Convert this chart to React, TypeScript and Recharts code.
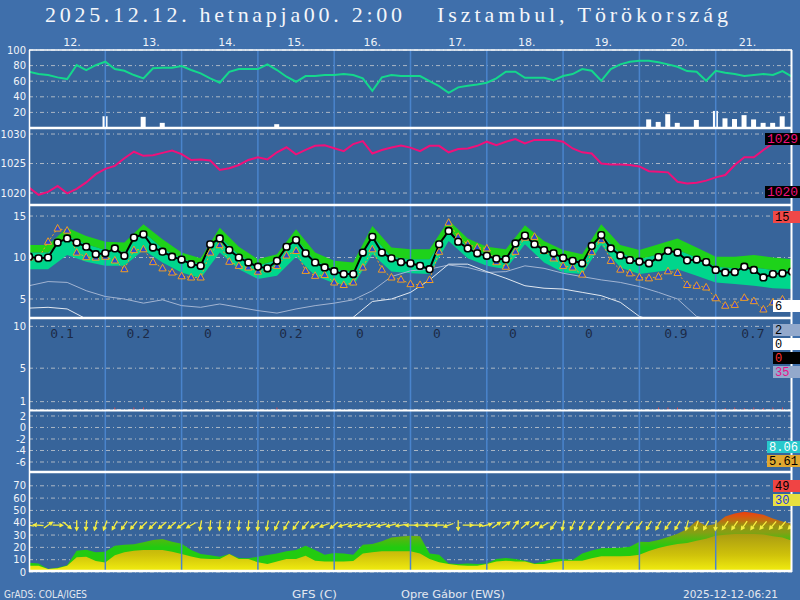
import React from 'react';
import { ComposedChart, Line, Area, Bar, Scatter, XAxis, YAxis, CartesianGrid, ReferenceLine } from 'recharts';

if (typeof document !== 'undefined') document.body.style.margin = '0';

// 3-hourly series, 0..240 h
const rh = [72.1, 69.2, 67.9, 64.9, 62.7, 80.7, 74.3, 80.7, 85.0, 75.6,
  73.4, 67.9, 63.6, 76.5, 77.3, 77.3, 79.4, 74.3, 70.0, 63.6,
  58.0, 72.1, 75.6, 75.6, 75.6, 81.6, 74.3, 65.7, 59.3, 66.6,
  66.6, 67.9, 67.9, 69.2, 67.9, 63.6, 47.7, 64.9, 67.9, 66.6,
  66.6, 66.6, 60.2, 53.7, 45.1, 52.1, 54.1, 55.9, 58.0, 63.6,
  72.1, 72.1, 64.4, 64.4, 64.4, 61.4, 66.6, 69.2, 75.6, 73.4,
  60.5, 75.6, 81.6, 85.0, 86.2, 86.2, 84.2, 81.6, 78.5, 73.0,
  72.1, 60.5, 73.4, 70.8, 69.2, 66.6, 67.9, 69.2, 67.9, 73.0, 65.7];

const pressure = [1020.95, 1019.7, 1020.2, 1021.2, 1019.95, 1020.7, 1021.8, 1023.2, 1024.1, 1024.6,
  1025.9, 1027.0, 1026.3, 1026.4, 1026.8, 1027.2, 1026.6, 1025.6, 1025.7, 1025.5,
  1023.9, 1024.2, 1024.75, 1025.6, 1026.05, 1025.7, 1026.9, 1027.75, 1026.55, 1027.3,
  1028.0, 1028.1, 1027.6, 1027.1, 1028.3, 1028.8, 1026.7, 1027.3, 1027.7, 1028.05,
  1027.7, 1027.1, 1028.0, 1028.0, 1026.9, 1027.45, 1027.55, 1028.0, 1028.7, 1028.1,
  1028.7, 1029.15, 1028.4, 1029.0, 1029.0, 1029.0, 1028.7, 1027.55, 1026.9, 1026.7,
  1025.0, 1024.85, 1024.85, 1024.75, 1024.5, 1023.7, 1023.6, 1023.5, 1021.9, 1021.6,
  1021.75, 1022.1, 1022.65, 1023.05, 1024.75, 1026.05, 1026.05, 1027.3, 1028.4, 1029.0, 1029.3];

const tMean = [10.1, 9.9, 10.0, 11.8, 12.3, 11.8, 11.3, 10.4, 10.5, 11.1,
  10.2, 12.4, 12.8, 11.2, 10.7, 10.1, 9.75, 9.2, 9.0, 11.6,
  12.3, 10.9, 10.0, 9.4, 8.9, 8.7, 9.6, 11.3, 12.1, 10.5,
  9.4, 8.8, 8.35, 8.0, 8.0, 10.6, 12.5, 10.6, 9.9, 9.45,
  9.3, 9.0, 8.6, 11.6, 13.2, 11.9, 11.1, 10.5, 10.2, 9.85,
  9.8, 11.7, 12.65, 11.6, 10.9, 10.5, 9.95, 9.6, 9.3, 11.4,
  12.7, 11.1, 10.25, 9.7, 9.5, 9.3, 10.05, 10.8, 10.6, 9.65,
  9.75, 9.45, 8.5, 8.2, 8.25, 8.9, 8.5, 7.6, 8.0, 8.1, 8.3];

const tGfs = [10.0, 9.9, 11.9, 13.5, 13.25, 10.6, 10.05, 10.0, 10.1, 9.65,
  8.6, 10.9, 11.0, 9.45, 8.7, 8.2, 7.75, 7.6, 7.6, 10.6,
  11.5, 9.5, 9.0, 8.8, 8.3, 8.6, 9.0, 10.25, 10.8, 8.4,
  7.8, 7.9, 7.0, 6.7, 7.0, 8.8, 11.0, 8.55, 7.6, 7.35,
  6.8, 6.7, 7.3, 10.7, 14.2, 12.5, 11.6, 11.2, 11.1, 9.45,
  8.9, 10.7, 12.4, 12.5, 10.8, 9.9, 9.0, 8.8, 7.95, 10.65,
  12.1, 9.6, 8.55, 8.1, 7.6, 7.5, 7.7, 8.35, 8.15, 6.7,
  6.6, 6.4, 5.1, 4.2, 4.3, 5.15, 4.75, 3.75, 4.6, 4.95, 4.6];

// 6-hourly ensemble band and dew point lines
const bandUpper = [11.5, 11.5, 13.6, 12.6, 11.9, 11.8, 14.0, 12.2, 10.6, 9.9,
  13.6, 11.3, 9.8, 10.4, 13.4, 10.6, 9.6, 9.4, 13.8, 11.2,
  11.0, 11.0, 14.5, 12.3, 11.3, 11.0, 13.9, 12.0, 10.9, 10.4,
  14.0, 11.5, 10.9, 11.6, 12.3, 11.2, 10.1, 10.1, 10.3, 10.0, 9.8];
const bandMid = [10.6, 10.6, 12.6, 11.6, 10.9, 10.7, 13.1, 11.1, 9.9, 9.2,
  12.5, 10.3, 9.0, 9.7, 12.3, 9.6, 8.6, 8.3, 12.6, 10.1,
  9.8, 9.8, 13.3, 11.3, 10.4, 10.0, 12.8, 11.0, 10.0, 9.6,
  12.8, 10.5, 9.8, 10.4, 10.9, 10.0, 8.9, 8.7, 8.8, 8.5, 8.5];
const bandLower = [8.6, 8.6, 10.3, 9.5, 9.0, 9.0, 10.9, 9.4, 8.2, 7.5,
  10.6, 8.6, 7.4, 7.8, 10.1, 7.8, 6.9, 6.6, 10.4, 8.3,
  8.1, 8.0, 12.0, 9.9, 9.0, 8.6, 11.6, 9.4, 8.2, 8.0,
  11.5, 8.8, 8.0, 8.3, 8.6, 7.8, 7.0, 6.8, 6.6, 6.3, 6.2];
const dewA = [6.6, 7.1, 7.0, 6.0, 5.3, 5.0, 4.5, 4.9, 4.2, 4.0,
  4.4, 4.0, 3.6, 3.3, 3.8, 4.2, 4.5, 4.9, 6.0, 7.7,
  8.4, 8.6, 9.1, 8.8, 8.2, 8.3, 9.0, 8.7, 8.1, 7.7,
  7.3, 7.0, 6.5, 5.8, 5.0, 2.9, 2.3, 2.1, 2.0, 2.0, 2.0];
const dewB = [3.9, 4.0, 3.8, 2.6, 2.2, 2.0, 2.0, 2.0, 2.0, 2.0,
  2.0, 2.0, 2.0, 2.0, 2.0, 2.0, 2.0, 2.8, 4.7, 5.0,
  5.8, 7.3, 9.2, 9.2, 8.3, 7.5, 6.6, 6.3, 6.2, 5.8,
  5.4, 4.6, 2.9, 2.2, 2.0, 2.0, 2.0, 2.0, 2.0, 2.0, 2.0];

// precipitation
const rainBarHours = [24, 36, 42, 78, 195, 198, 201, 204, 210, 216, 219, 222, 225, 228, 231, 234, 237];
const rainBarVals = [15.1, 14.3, 6.6, 4.9, 11.0, 7.8, 17.7, 6.6, 10.3, 21.9, 12.4, 11.5, 16.5, 11.0, 6.6, 6.6, 15.0];
const rain3hHours = [24, 27, 33, 36, 78, 198, 201, 204, 216, 219, 222, 225, 228, 231, 234, 237];
const rain3hVals = [0.3, 0.3, 0.3, 0.3, 0.3, 0.3, 0.3, 0.3, 0.3, 0.25, 0.3, 0.25, 0.3, 0.25, 0.3, 0.3];
const dailyRain = ['0.1', '0.2', '0', '0.2', '0', '0', '0', '0', '0.9', '0.7'];
const dailyRainHours = [10.4, 34.4, 56.3, 82.4, 104.1, 128.3, 152.2, 176.1, 203.5, 227.7];

// wind
const gust = [7.5, 7.0, 2.5, 3.5, 5.5, 17.3, 18.0, 16.0, 16.4, 21.4,
  22.2, 22.5, 24.1, 25.9, 26.8, 24.5, 23.0, 17.8, 14.6, 13.5,
  12.4, 14.6, 11.4, 11.1, 12.4, 13.8, 15.1, 16.8, 17.8, 21.4,
  17.8, 14.1, 15.4, 15.1, 14.1, 22.2, 22.7, 24.9, 28.1, 28.8,
  29.4, 29.0, 15.1, 14.1, 7.0, 6.5, 7.0, 6.5, 7.0, 10.5,
  11.4, 10.5, 9.2, 7.0, 8.6, 10.5, 10.5, 9.7, 15.0, 17.5,
  19.2, 19.5, 19.7, 20.5, 24.6, 24.3, 26.0, 28.5, 31.0, 35.0,
  41.6, 37.5, 39.0, 45.0, 47.5, 48.9, 48.0, 46.5, 43.5, 41.0, 38.9];
const windMean = [5.1, 5.0, 2.4, 3.0, 5.1, 11.9, 12.4, 9.0, 7.8, 13.5,
  16.0, 17.3, 17.8, 17.8, 17.8, 16.5, 14.6, 12.5, 11.0, 10.5,
  10.5, 14.6, 10.5, 10.5, 8.0, 6.5, 8.5, 10.5, 10.5, 13.2,
  9.2, 8.6, 8.6, 8.6, 9.0, 15.1, 16.0, 16.8, 16.8, 16.8,
  16.8, 15.0, 10.5, 8.0, 6.5, 5.5, 5.1, 5.1, 6.5, 8.6,
  9.2, 8.6, 8.6, 6.5, 6.5, 8.0, 9.2, 9.2, 9.2, 11.1,
  12.7, 12.7, 12.7, 13.0, 14.0, 17.0, 19.5, 21.4, 22.7, 23.5,
  25.4, 27.0, 29.5, 30.3, 30.8, 30.8, 30.8, 30.5, 29.0, 28.1, 25.4];
// arrow heading on screen, degrees (0 = right, 90 = up)
const windDir = [170, 175, 35, 0, -40, -90, -95, -105, -110, -120,
  -125, -130, -135, -135, -140, -140, -145, -150, -100, -95,
  -95, -100, -95, -95, -95, -100, -115, -120, -125, -130,
  -150, -160, -140, -165, -165, -165, -165, -165, -165, -170,
  180, 180, 180, 180, -160, -90, 0, 0, 15, 35,
  40, 55, 40, 35, -150, -125, -100, -115, -120, -125,
  -120, -125, -125, -130, -125, -120, -120, -125, -120, -105,
  -110, -120, -95, -125, -125, -125, -125, -130, -130, -130, -135];

const dayLabels = ['12.', '13.', '14.', '15.', '16.', '17.', '18.', '19.', '20.', '21.'];
const dayLabelHours = [13.5, 38.4, 62.3, 84, 108, 134.6, 156.6, 180.6, 204.5, 226];
const dayBreaks = [24, 48, 72, 96, 120, 144, 168, 192, 216];

const sideTags = ['1029', '1020', '15', '6', '2', '0', '0', '35', '8.06', '5.61', '49', '30'];

const hours = rh.map((_, i) => i * 3);
const rhData = hours.map((t, i) => {
  const b = rainBarHours.indexOf(t);
  return { t, rh: rh[i], bar: b >= 0 ? rainBarVals[b] : null };
});
const presData = hours.map((t, i) => ({ t, p: pressure[i] }));
const tempData = hours.map((t, i) => ({ t, mean: tMean[i], gfs: tGfs[i] }));
const bandData = bandUpper.map((u, k) => ({
  t: k * 6, hi: [bandMid[k], u], lo: [bandLower[k], bandMid[k]], dewA: dewA[k], dewB: dewB[k],
}));
const precipData = hours.map((t) => {
  const r = rain3hHours.indexOf(t);
  return { t, r: r >= 0 ? rain3hVals[r] : null };
});
const windData = hours.map((t, i) => ({ t, gust: gust[i], mean: windMean[i] }));
const ARROW_LEVEL = 38;
const arrowData = hours.map((t, i) => ({ t, v: ARROW_LEVEL, dir: windDir[i] }));
const RAIN_LABEL_LEVEL = 9.2;
const rainLabelData = dailyRainHours.map((t, i) => ({ t, v: RAIN_LABEL_LEVEL, label: dailyRain[i] }));

const OUTER = '#3f6fab';
const PLOT_BG = '#37649a';
const DAY = '#4a84cc';
const GRID = '#c8ccd0';
const M = { top: 8, right: 8, bottom: 8, left: 2 };
const tickStyle = { fill: '#f2f4f8', fontSize: 10, fontFamily: 'DejaVu Sans' };

const yCommon = {
  width: 27, axisLine: false, tickLine: false, tickSize: 2, tickMargin: 1,
  tick: tickStyle, interval: 0 as const, allowDataOverflow: true, type: 'number' as const,
};

const WIND_MAX = 81.2;
const windPx = (v: number) => 8 + ((WIND_MAX - v) / WIND_MAX) * 100;

function dayLineEls() {
  return dayBreaks.map((d) => (
    <ReferenceLine key={d} x={d} stroke={DAY} strokeWidth={1.5} ifOverflow="hidden" />
  ));
}

const WhiteDot = (props: any) => {
  const { cx, cy } = props;
  if (cx == null || cy == null) return null;
  return <rect key={`w${cx}`} x={cx - 3.3} y={cy - 3.3} width={6.6} height={6.6} rx={2.6}
    fill="#ffffff" stroke="#000000" strokeWidth={1.6} />;
};

const TriDot = (props: any) => {
  const { cx, cy } = props;
  if (cx == null || cy == null) return null;
  return (
    <path key={`t${cx}`} d={`M${cx},${cy - 4} L${cx - 3.6},${cy + 2.6} L${cx + 3.6},${cy + 2.6} Z`}
      fill="#2c4ad0" stroke="#f0a020" strokeWidth={1} />
  );
};

const WindArrow = (props: any) => {
  const { cx, cy, payload } = props;
  const a = (payload.dir * Math.PI) / 180;
  const L = 10;
  const dx = Math.cos(a);
  const dy = -Math.sin(a);
  const x1 = cx - (dx * L) / 2, y1 = cy - (dy * L) / 2;
  const x2 = cx + (dx * L) / 2, y2 = cy + (dy * L) / 2;
  const h = 3.6, th = 0.5;
  const bx = -dx, by = -dy;
  const hx1 = x2 + h * (bx * Math.cos(th) - by * Math.sin(th));
  const hy1 = y2 + h * (bx * Math.sin(th) + by * Math.cos(th));
  const hx2 = x2 + h * (bx * Math.cos(-th) - by * Math.sin(-th));
  const hy2 = y2 + h * (bx * Math.sin(-th) + by * Math.cos(-th));
  return (
    <path d={`M${x1},${y1} L${x2},${y2} M${hx1},${hy1} L${x2},${y2} L${hx2},${hy2}`}
      stroke="#f6ee40" strokeWidth={1.3} fill="none" />
  );
};

const RainLabel = (props: any) => {
  const { cx, cy, payload } = props;
  return (
    <text x={cx} y={cy + 4.5} textAnchor="middle" fill="#1d2b48" fontSize={13}
      fontFamily="'DejaVu Sans Mono', monospace">{payload.label}</text>
  );
};

const tagStyles = [
  { x: 765, y: 133, w: 35, bg: '#000000', fg: '#f0107a' },
  { x: 765, y: 186, w: 35, bg: '#000000', fg: '#f0107a' },
  { x: 773, y: 211, w: 27, bg: '#f04848', fg: '#000000' },
  { x: 773, y: 300, w: 27, bg: '#ffffff', fg: '#000000' },
  { x: 773, y: 324, w: 27, bg: '#93a9cc', fg: '#000000' },
  { x: 773, y: 338, w: 27, bg: '#ffffff', fg: '#000000' },
  { x: 773, y: 352, w: 27, bg: '#000000', fg: '#ff3030' },
  { x: 773, y: 366, w: 27, bg: '#93a9cc', fg: '#e8108a' },
  { x: 767, y: 441, w: 33, bg: '#28c8cc', fg: '#ffffff' },
  { x: 767, y: 455, w: 33, bg: '#e0a830', fg: '#000000' },
  { x: 773, y: 480, w: 27, bg: '#f04444', fg: '#000000' },
  { x: 773, y: 494, w: 27, bg: '#e8e040', fg: '#1838e8' },
];

const abs = (top: number): React.CSSProperties => ({ position: 'absolute', left: 0, top });

export default function App() {
  const grid = (
    <CartesianGrid vertical={false} fill={PLOT_BG} fillOpacity={1} stroke={GRID}
      strokeDasharray="4 3 1 3" strokeOpacity={0.8} />
  );
  return (
    <div style={{ position: 'relative', width: 800, height: 600, background: OUTER, overflow: 'hidden' }}>
      {/* relative humidity + rain bars */}
      <div style={abs(0)}>
        <ComposedChart width={800} height={136} data={rhData} margin={{ ...M, top: 30 }}>
          {grid}
          <XAxis type="number" dataKey="t" domain={[0, 240]} orientation="top" height={20}
            ticks={dayLabelHours} interval={0} axisLine={false} tickLine={false} tickSize={0} tickMargin={4}
            tickFormatter={(v: number) => dayLabels[dayLabelHours.indexOf(v)]}
            tick={{ fill: '#eef2f8', fontSize: 11, fontFamily: 'DejaVu Sans' }} allowDataOverflow />
          <YAxis {...yCommon} domain={[0, 100]} ticks={[20, 40, 60, 80, 100]} />
          <Bar dataKey="bar" fill="#ffffff" barSize={5} isAnimationActive={false} />
          {dayLineEls()}
          <Line dataKey="rh" stroke="#14d88c" strokeWidth={2} dot={false} type="linear" isAnimationActive={false} />
        </ComposedChart>
      </div>

      {/* pressure */}
      <div style={abs(120)}>
        <ComposedChart width={800} height={93} data={presData} margin={M}>
          {grid}
          <XAxis type="number" dataKey="t" domain={[0, 240]} hide allowDataOverflow />
          <YAxis {...yCommon} domain={[1017.97, 1031.02]} ticks={[1020, 1025, 1030]} />
          {dayLineEls()}
          <Line dataKey="p" stroke="#f0107a" strokeWidth={2} dot={false} type="linear" isAnimationActive={false} />
        </ComposedChart>
      </div>

      {/* temperature: bands and dew lines */}
      <div style={abs(197)}>
        <ComposedChart width={800} height={129} data={bandData} margin={M}>
          {grid}
          <XAxis type="number" dataKey="t" domain={[0, 240]} hide allowDataOverflow />
          <YAxis {...yCommon} domain={[2.71, 16.33]} ticks={[5, 10, 15]} />
          <Area dataKey="lo" type="linear" fill="#00d68c" fillOpacity={1} stroke="none" isAnimationActive={false} />
          <Area dataKey="hi" type="linear" fill="#1ed21a" fillOpacity={1} stroke="none" isAnimationActive={false} />
          {dayLineEls()}
          <Line dataKey="dewA" stroke="#a2b4d2" strokeWidth={1} dot={false} type="linear" isAnimationActive={false} />
          <Line dataKey="dewB" stroke="#e2e8f0" strokeWidth={1} dot={false} type="linear" isAnimationActive={false} />
        </ComposedChart>
      </div>
      {/* temperature: lines */}
      <div style={abs(197)}>
        <ComposedChart width={800} height={129} data={tempData} margin={{ ...M, left: 29 }}>
          <XAxis type="number" dataKey="t" domain={[0, 240]} hide allowDataOverflow />
          <YAxis hide type="number" domain={[2.71, 16.33]} allowDataOverflow />
          <Line dataKey="gfs" stroke="#f0a020" strokeWidth={1} strokeDasharray="2 2" dot={TriDot}
            type="linear" isAnimationActive={false} />
          <Line dataKey="mean" stroke="#000000" strokeWidth={2} dot={WhiteDot}
            type="linear" isAnimationActive={false} />
        </ComposedChart>
      </div>

      {/* precipitation */}
      <div style={abs(310)}>
        <ComposedChart width={800} height={108} data={precipData} margin={M}>
          {grid}
          <XAxis type="number" dataKey="t" domain={[0, 240]} hide allowDataOverflow />
          <YAxis {...yCommon} domain={[0, 11]} ticks={[1, 5, 10]} />
          {dayLineEls()}
          <Bar dataKey="r" fill="#f04848" barSize={5} isAnimationActive={false} />
          <Scatter data={rainLabelData} dataKey="v" shape={RainLabel} isAnimationActive={false} />
        </ComposedChart>
      </div>

      {/* fifth panel */}
      <div style={abs(402)}>
        <ComposedChart width={800} height={78} data={presData} margin={M}>
          {grid}
          <XAxis type="number" dataKey="t" domain={[0, 240]} hide allowDataOverflow />
          <YAxis {...yCommon} domain={[-7.74, 3.04]} ticks={[-6, -4, -2, 0, 2]} />
          {dayLineEls()}
        </ComposedChart>
      </div>

      {/* wind */}
      <div style={abs(464)}>
        <ComposedChart width={800} height={116} data={windData} margin={M}>
          <defs>
            <linearGradient id="gustFill" gradientUnits="userSpaceOnUse" x1="0" x2="0" y1={windPx(50)} y2={windPx(0)}>
              <stop offset="0" stopColor="#e83a10" />
              <stop offset="0.08" stopColor="#e05010" />
              <stop offset="0.16" stopColor="#c06e10" />
              <stop offset="0.24" stopColor="#9c9212" />
              <stop offset="0.36" stopColor="#84a014" />
              <stop offset="0.48" stopColor="#4cba10" />
              <stop offset="0.6" stopColor="#22ca10" />
              <stop offset="1" stopColor="#22cc10" />
            </linearGradient>
            <linearGradient id="meanFill" x1="0" x2="0" y1="0" y2="1">
              <stop offset="0" stopColor="#aa9c12" />
              <stop offset="0.55" stopColor="#cfc20a" />
              <stop offset="1" stopColor="#f4f010" />
            </linearGradient>
          </defs>
          {grid}
          <XAxis type="number" dataKey="t" domain={[0, 240]} hide allowDataOverflow />
          <YAxis {...yCommon} domain={[0, WIND_MAX]} ticks={[0, 10, 20, 30, 40, 50, 60, 70]} />
          <Area dataKey="gust" type="linear" fill="url(#gustFill)" fillOpacity={1} stroke="none" isAnimationActive={false} />
          <Area dataKey="mean" type="linear" fill="url(#meanFill)" fillOpacity={1} stroke="none" isAnimationActive={false} />
          {dayLineEls()}
          <Scatter data={arrowData} dataKey="v" shape={WindArrow} isAnimationActive={false} />
        </ComposedChart>
      </div>

      {/* frame, title, tags, credits */}
      <svg width={800} height={600} style={{ position: 'absolute', left: 0, top: 0, pointerEvents: 'none' }}>
        <text x={45} y={22} fontFamily="'Liberation Serif', serif" fontSize={22} fill="#f4f6fa"
          textLength={357} lengthAdjust="spacing">2025.12.12. hetnapja00. 2:00</text>
        <text x={437} y={22} fontFamily="'Liberation Serif', serif" fontSize={22} fill="#f4f6fa"
          textLength={291} lengthAdjust="spacing">Isztambul, Törökország</text>
        <g stroke="#ffffff">
          <line x1={29} x2={792} y1={50} y2={50} strokeWidth={1.5} />
          <line x1={29} x2={792} y1={128} y2={128} strokeWidth={2.5} />
          <line x1={29} x2={792} y1={205} y2={205} strokeWidth={2.5} />
          <line x1={29} x2={792} y1={318} y2={318} strokeWidth={2.5} />
          <line x1={29} x2={792} y1={410.5} y2={410.5} strokeWidth={2} />
          <line x1={29} x2={792} y1={472} y2={472} strokeWidth={2.5} />
          <line x1={29} x2={792} y1={571} y2={571} strokeWidth={2.5} />
          <line x1={29.5} x2={29.5} y1={50} y2={572} strokeWidth={1.5} />
          <line x1={791.5} x2={791.5} y1={50} y2={572} strokeWidth={2} />
        </g>
        {sideTags.map((txt, i) => {
          const s = tagStyles[i];
          const fit = txt.length >= 4 ? { textLength: s.w - 4, lengthAdjust: 'spacingAndGlyphs' as const } : {};
          return (
            <g key={i}>
              <rect x={s.x} y={s.y} width={s.w} height={12} fill={s.bg} />
              <text x={s.x + 2} y={s.y + 10} fill={s.fg} fontSize={12}
                fontFamily="'Liberation Mono', monospace" {...fit}>{txt}</text>
            </g>
          );
        })}
        <g fill="#e4e8f0" fontFamily="'DejaVu Sans', sans-serif" fontSize={10.5}>
          <text x={4} y={598} textLength={83} lengthAdjust="spacingAndGlyphs">GrADS: COLA/IGES</text>
          <text x={292} y={598} textLength={45} lengthAdjust="spacingAndGlyphs">GFS (C)</text>
          <text x={401} y={598} textLength={104} lengthAdjust="spacingAndGlyphs">Opre Gábor (EWS)</text>
          <text x={683} y={598} textLength={95} lengthAdjust="spacingAndGlyphs">2025-12-12-06:21</text>
        </g>
      </svg>
    </div>
  );
}
